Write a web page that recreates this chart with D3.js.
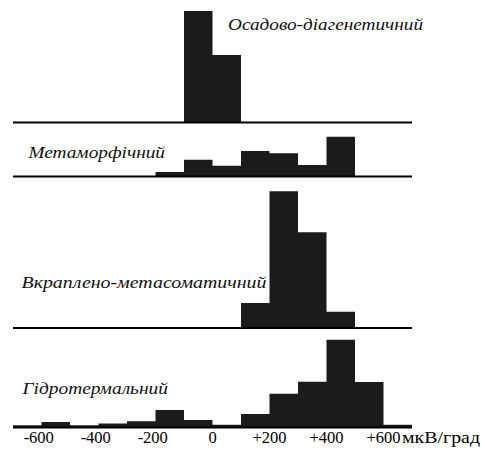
<!DOCTYPE html>
<html>
<head>
<meta charset="utf-8">
<script src="https://cdn.jsdelivr.net/npm/d3@7"></script>
<style>
  html, body { margin: 0; padding: 0; background: #fff; }
  svg { display: block; }
</style>
</head>
<body>
<svg id="chart" width="482" height="453"></svg>
<script>
// ---------- DATA ----------
// histogram bins: lower edges, mkV/grad, width 100
const binStarts = [-700, -600, -500, -400, -300, -200, -100, 0, 100, 200, 300, 400, 500, 600];
const binEnd = 700;
const panelNames = ["Осадово-діагенетичний", "Метаморфічний", "Вкраплено-метасоматичний", "Гідротермальний"];
// relative frequency, % per panel
const sedimentary   = [0, 0, 0, 0, 0, 0, 62.3, 37.7, 0, 0, 0, 0, 0, 0];
const metamorphic   = [0, 0, 0, 0, 0, 3.4, 12.7, 8.2, 19.3, 17.6, 8.7, 30.1, 0, 0];
const metasomatic   = [0, 0, 0, 0, 0, 0, 0, 0, 9.1, 50.0, 35.0, 5.9, 0, 0];
const hydrothermal  = [0.8, 2.0, 0.8, 1.4, 2.3, 6.3, 2.7, 1.0, 4.9, 12.2, 16.5, 31.7, 16.4, 1.0];
const tickValues = [-600, -400, -200, 0, 200, 400, 600];
const tickLabels = ["-600", "-400", "-200", "0", "+200", "+400", "+600"];
const unitLabel = "мкВ/град";

// ---------- LAYOUT ----------
const series = [sedimentary, metamorphic, metasomatic, hydrothermal];
const baselines = [122.5, 176.5, 328, 427.5];
const fullHeights = [179, 132, 273.5, 277];   // px for 100 %
const labelPos = [[228, 29.5], [28.5, 157.5], [21.5, 287.5], [22.5, 393.5]];
const labelWidths = [195, 136.5, 245, 145.5];

const svg = d3.select("#chart");
const x = d3.scaleLinear().domain([-700, 700]).range([13, 412]);
const barColor = "#1b1b1b";
const serif = "Times New Roman, serif";

series.forEach((vals, i) => {
  const y = d3.scaleLinear().domain([0, 100]).range([baselines[i], baselines[i] - fullHeights[i]]);
  const pts = binStarts.map((b, j) => ({ x: b, v: vals[j] }));
  pts.push({ x: binEnd, v: vals[vals.length - 1] });
  const area = d3.area()
    .x(d => x(d.x))
    .y0(y(0))
    .y1(d => y(d.v))
    .curve(d3.curveStepAfter);
  svg.append("path")
    .attr("d", area(pts))
    .attr("fill", barColor);

  svg.append("line")
    .attr("x1", x(-700)).attr("x2", x(700))
    .attr("y1", baselines[i]).attr("y2", baselines[i])
    .attr("stroke", "#000").attr("stroke-width", 2);

  svg.append("text")
    .attr("x", labelPos[i][0]).attr("y", labelPos[i][1])
    .attr("textLength", labelWidths[i])
    .attr("lengthAdjust", "spacingAndGlyphs")
    .style("font-family", serif)
    .style("font-style", "italic")
    .style("font-size", "17px")
    .attr("fill", "#111")
    .text(panelNames[i]);
});

// axis labels (negative labels: digits centred on the value, sign hanging left)
const axisY = 442.5;
const ticks = svg.selectAll("text.tick")
  .data(tickValues)
  .enter().append("text")
  .attr("class", "tick")
  .attr("y", axisY)
  .style("font-family", serif)
  .style("font-size", "16.5px")
  .attr("fill", "#000")
  .text((d, i) => tickLabels[i]);

ticks.each(function (d, i) {
  const t = d3.select(this);
  if (d < 0) {
    const probe = svg.append("text").style("font-family", serif).style("font-size", "16.5px")
      .text(tickLabels[i].slice(1));
    const w = probe.node().getComputedTextLength();
    probe.remove();
    t.attr("text-anchor", "end").attr("x", x(d) + w / 2);
  } else {
    t.attr("text-anchor", "middle").attr("x", x(d));
  }
});

svg.append("text")
  .attr("x", 402).attr("y", axisY)
  .attr("textLength", 78)
  .attr("lengthAdjust", "spacingAndGlyphs")
  .style("font-family", serif)
  .style("font-size", "16.5px")
  .attr("fill", "#000")
  .text(unitLabel);
</script>
</body>
</html>
